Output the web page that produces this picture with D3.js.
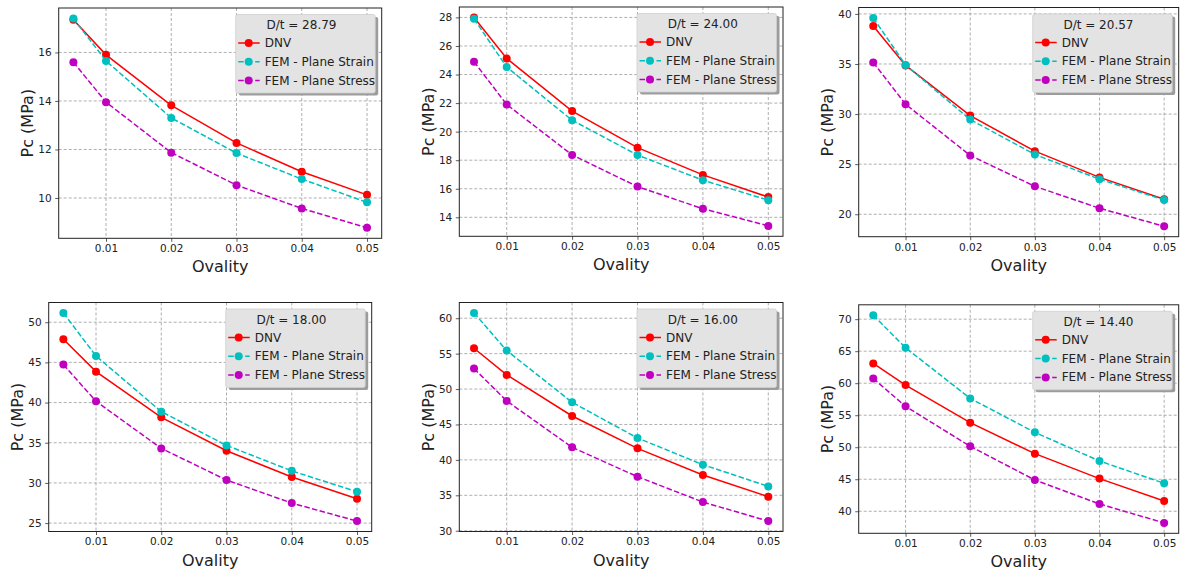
<!DOCTYPE html>
<html>
<head>
<meta charset="utf-8">
<script src="https://cdn.jsdelivr.net/npm/d3@7"></script>
<style>
  body { margin: 0; background: #fff; }
  svg { display: block; font-family: "DejaVu Sans", sans-serif; }
</style>
</head>
<body>
<svg id="chart" width="1182" height="571"></svg>
<script>
// data
const ovality = [0.005, 0.01, 0.02, 0.03, 0.04, 0.05];
const xTicks = [0.01, 0.02, 0.03, 0.04, 0.05];
const dtValues = ["28.79", "24.00", "20.57", "18.00", "16.00", "14.40"];
const seriesNames = ["DNV", "FEM - Plane Strain", "FEM - Plane Stress"];

const dnv = [
  [17.35, 15.9, 13.82, 12.27, 11.08, 10.13],
  [28.0, 25.12, 21.44, 18.88, 16.97, 15.42],
  [38.8, 34.86, 29.85, 26.3, 23.68, 21.5],
  [47.88, 43.85, 38.16, 34.0, 30.73, 28.03],
  [55.76, 52.0, 46.2, 41.63, 37.86, 34.8],
  [63.08, 59.7, 53.83, 49.0, 45.1, 41.6]
];
const planeStrain = [
  [17.4, 15.65, 13.3, 11.85, 10.78, 9.82],
  [27.9, 24.52, 20.8, 18.36, 16.6, 15.2],
  [39.6, 34.9, 29.45, 25.97, 23.5, 21.43],
  [51.16, 45.8, 38.87, 34.67, 31.5, 28.9],
  [60.75, 55.43, 48.13, 43.09, 39.32, 36.26],
  [70.62, 65.53, 57.62, 52.32, 47.85, 44.36]
];
const planeStress = [
  [15.6, 13.95, 11.87, 10.53, 9.57, 8.77],
  [24.9, 21.9, 18.37, 16.15, 14.6, 13.4],
  [35.16, 30.98, 25.87, 22.79, 20.6, 18.8],
  [44.73, 40.16, 34.3, 30.36, 27.49, 25.25],
  [52.89, 48.32, 41.77, 37.63, 34.05, 31.36],
  [60.74, 56.38, 50.14, 44.88, 41.14, 38.18]
];
const yTicks = [
  [10, 12, 14, 16],
  [14, 16, 18, 20, 22, 24, 26, 28],
  [20, 25, 30, 35, 40],
  [25, 30, 35, 40, 45, 50],
  [30, 35, 40, 45, 50, 55, 60],
  [40, 45, 50, 55, 60, 65, 70]
];

// axes boxes of the six panels
const boxes = [
  { l: 58.7, t: 8, r: 381.7, b: 238.3 },
  { l: 459.3, t: 7, r: 783, b: 236.3 },
  { l: 858.7, t: 7.5, r: 1178.7, b: 236.7 },
  { l: 48.7, t: 302.5, r: 371.7, b: 531.5 },
  { l: 459.3, t: 302.5, r: 783, b: 531.5 },
  { l: 858.7, t: 304.8, r: 1178.7, b: 533.3 }
];

const colors = ["#ff0000", "#00bfbf", "#bf00bf"];
const dashes = [null, "5.5,2.4", "5.5,2.4"];

const svg = d3.select("#chart");

const pad = (lo, hi) => {
  const m = (hi - lo) * 0.05;
  return [lo - m, hi + m];
};

boxes.forEach((box, i) => {
  const series = [dnv[i], planeStrain[i], planeStress[i]];
  const all = series.flat();

  let x = d3.scaleLinear()
    .domain(pad(d3.min(ovality), d3.max(ovality)))
    .range([box.l, box.r]);
  let y = d3.scaleLinear()
    .domain(pad(d3.min(all), d3.max(all)))
    .range([box.b, box.t]);

  const g = svg.append("g");

  //grid
  g.append("g")
    .selectAll("line.gx")
    .data(xTicks)
    .join("line")
    .attr("x1", (d) => x(d)).attr("x2", (d) => x(d))
    .attr("y1", box.t).attr("y2", box.b)
    .attr("stroke", "#9a9a9a").attr("stroke-width", 0.8)
    .attr("stroke-dasharray", "3,2");
  g.append("g")
    .selectAll("line.gy")
    .data(yTicks[i])
    .join("line")
    .attr("y1", (d) => y(d)).attr("y2", (d) => y(d))
    .attr("x1", box.l).attr("x2", box.r)
    .attr("stroke", "#9a9a9a").attr("stroke-width", 0.8)
    .attr("stroke-dasharray", "3,2");

  //axes
  const xAxis = g.append("g")
    .attr("transform", `translate(0,${box.b})`)
    .call(d3.axisBottom(x).tickValues(xTicks).tickFormat(d3.format(".2f")).tickSize(3.5).tickPadding(3));
  const yAxis = g.append("g")
    .attr("transform", `translate(${box.l},0)`)
    .call(d3.axisLeft(y).tickValues(yTicks[i]).tickFormat(d3.format("d")).tickSize(3.5).tickPadding(3.5));
  [xAxis, yAxis].forEach((a) => {
    a.select(".domain").remove();
    a.selectAll("line").attr("stroke", "#333").attr("stroke-width", 0.8);
    a.selectAll("text").attr("font-size", "10.5px").attr("fill", "#222")
      .attr("font-family", "DejaVu Sans, sans-serif");
  });

  //lines and markers
  series.forEach((vals, s) => {
    const pts = vals.map((v, k) => [ovality[k], v]);
    g.append("path")
      .datum(pts)
      .attr("fill", "none")
      .attr("stroke", colors[s])
      .attr("stroke-width", 1.5)
      .attr("stroke-dasharray", dashes[s])
      .attr("d", d3.line().x((d) => x(d[0])).y((d) => y(d[1])));
    g.append("g")
      .selectAll("circle")
      .data(pts)
      .join("circle")
      .attr("cx", (d) => x(d[0]))
      .attr("cy", (d) => y(d[1]))
      .attr("r", 4)
      .attr("fill", colors[s]);
  });

  //frame
  g.append("rect")
    .attr("x", box.l).attr("y", box.t)
    .attr("width", box.r - box.l).attr("height", box.b - box.t)
    .attr("fill", "none").attr("stroke", "#222").attr("stroke-width", 1);

  //labels
  g.append("text")
    .attr("x", (box.l + box.r) / 2)
    .attr("y", box.b + 34)
    .attr("text-anchor", "middle")
    .attr("font-size", "16px")
    .attr("fill", "#222")
    .text("Ovality");
  g.append("text")
    .attr("transform", `translate(${box.l - 31},${(box.t + box.b) / 2}) rotate(-90)`)
    .attr("text-anchor", "middle")
    .attr("dominant-baseline", "central")
    .attr("font-size", "16px")
    .attr("fill", "#222")
    .text("Pc (MPa)");

  //legend
  const lw = 139.5, lh = 78.5;
  const lx = box.r - 6.5 - lw, ly = box.t + 6.5;
  const leg = g.append("g").attr("transform", `translate(${lx},${ly})`);
  leg.append("rect")
    .attr("x", 3).attr("y", 2.5).attr("width", lw).attr("height", lh)
    .attr("rx", 2).attr("fill", "#9c9c9c");
  leg.append("rect")
    .attr("width", lw).attr("height", lh).attr("rx", 2)
    .attr("fill", "#e3e3e3").attr("stroke", "#cfcfcf").attr("stroke-width", 0.8);
  leg.append("text")
    .attr("x", lw / 2 - 4).attr("y", 10.5)
    .attr("text-anchor", "middle").attr("dominant-baseline", "central")
    .attr("font-size", "12px").attr("fill", "#222")
    .text("D/t = " + dtValues[i]);
  seriesNames.forEach((name, s) => {
    const ry = 28.5 + s * 18.8;
    leg.append("line")
      .attr("x1", 2.5).attr("x2", 24)
      .attr("y1", ry).attr("y2", ry)
      .attr("stroke", colors[s]).attr("stroke-width", 1.5)
      .attr("stroke-dasharray", dashes[s] ? "5.5,3" : null);
    leg.append("circle")
      .attr("cx", 13).attr("cy", ry).attr("r", 4)
      .attr("fill", colors[s]);
    leg.append("text")
      .attr("x", 29).attr("y", ry)
      .attr("dominant-baseline", "central")
      .attr("font-size", "12px").attr("fill", "#222")
      .text(name);
  });
});
</script>
</body>
</html>
